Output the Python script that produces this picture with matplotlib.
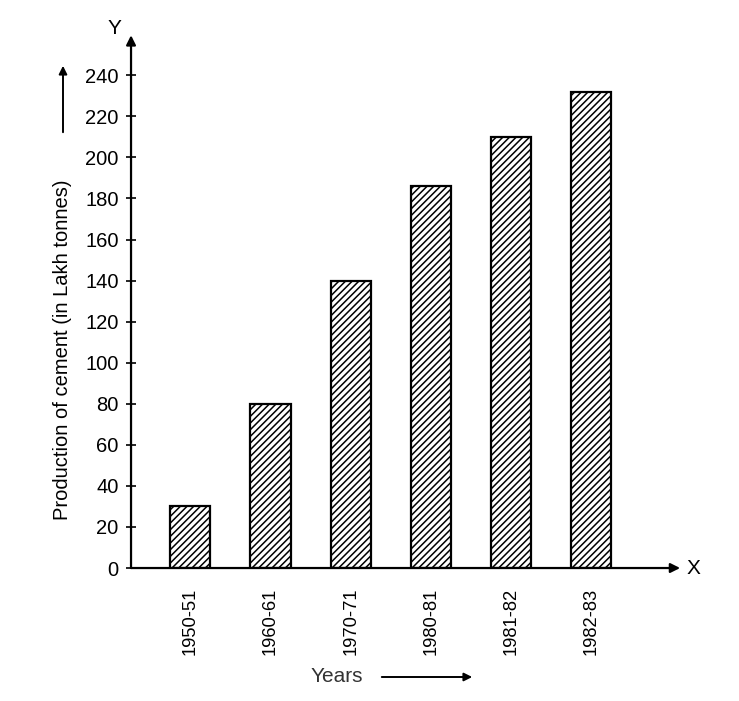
import matplotlib.pyplot as plt
import numpy as np

# Cement production data
years = ["1950-51", "1960-61", "1970-71", "1980-81", "1981-82", "1982-83"]
production = [30, 80, 140, 186, 210, 232]
yticks = [0, 20, 40, 60, 80, 100, 120, 140, 160, 180, 200, 220, 240]

plt.rcParams['font.family'] = ['Liberation Sans', 'DejaVu Sans']
plt.rcParams['hatch.linewidth'] = 1.1

fig = plt.figure(figsize=(7.39, 7.01), dpi=100)
ax = fig.add_axes([0.1773, 0.1897, 0.743, 0.760])

x = np.arange(len(years))
ax.bar(x, production, width=0.5, color='white', edgecolor='black',
       linewidth=1.6, hatch='/////')

ax.set_xlim(-0.74, 6.11)
ax.set_ylim(0, 259.5)

for s in ax.spines.values():
    s.set_visible(False)

# axes with arrow heads
ax.annotate('', xy=(1, 0), xytext=(0, 0), xycoords='axes fraction',
            arrowprops=dict(arrowstyle='-|>', color='black', lw=1.6,
                            mutation_scale=14, shrinkA=0, shrinkB=0))
ax.annotate('', xy=(0, 1), xytext=(0, 0), xycoords='axes fraction',
            arrowprops=dict(arrowstyle='-|>', color='black', lw=1.6,
                            mutation_scale=14, shrinkA=0, shrinkB=0))
ax.text(1.012, 0, 'X', transform=ax.transAxes, fontsize=15,
        va='center', ha='left')
ax.text(-0.018, 0.995, 'Y', transform=ax.transAxes, fontsize=15,
        va='bottom', ha='right')

ax.set_yticks(yticks)
ax.set_yticklabels([str(v) for v in yticks], fontsize=14.5)
ax.tick_params(axis='y', direction='inout', length=7, width=1.2, pad=5.5)

ax.set_xticks(x)
ax.set_xticklabels(years, rotation=90, fontsize=13.2)
ax.tick_params(axis='x', length=0, pad=14)

# axis titles with arrows
fig.text(63 / 739, 1 - 350 / 701, 'Production of cement (in Lakh tonnes)',
         rotation=90, fontsize=14.5, ha='center', va='center')
fig.patches.append(plt.matplotlib.patches.FancyArrowPatch(
    (63 / 739, 1 - 135 / 701), (63 / 739, 1 - 63 / 701),
    transform=fig.transFigure, arrowstyle='-|>', mutation_scale=12,
    color='black', lw=1.4))
fig.text(337 / 739, 1 - 677 / 701, 'Years', fontsize=15, color='#333333',
         ha='center', va='center')
fig.patches.append(plt.matplotlib.patches.FancyArrowPatch(
    (379 / 739, 1 - 677 / 701), (475 / 739, 1 - 677 / 701),
    transform=fig.transFigure, arrowstyle='-|>', mutation_scale=12,
    color='black', lw=1.4))

fig.savefig('out.png', dpi=100)
